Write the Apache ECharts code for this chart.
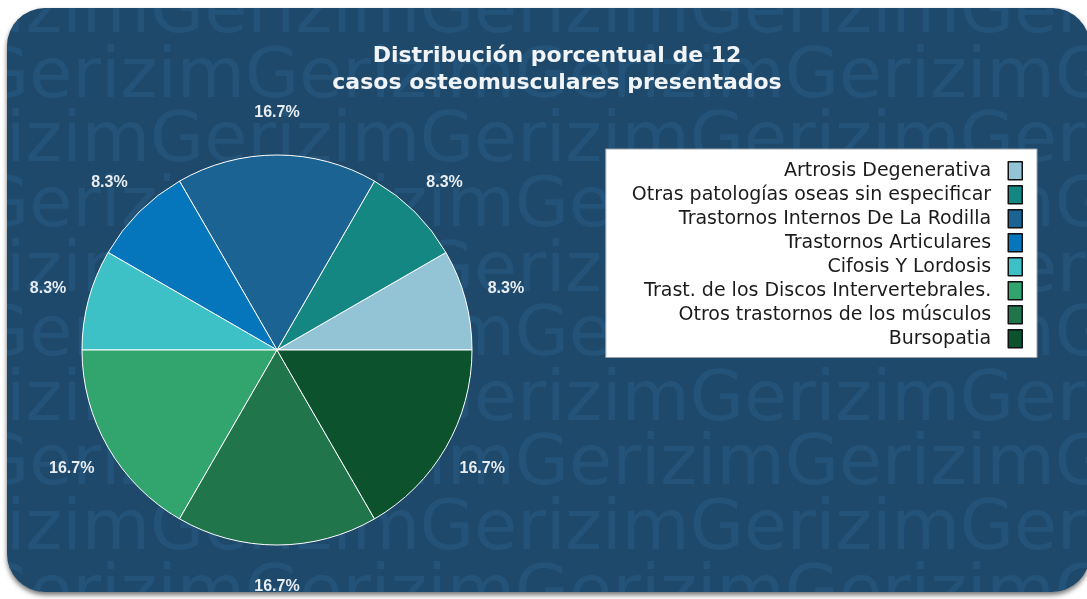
<!DOCTYPE html>
<html>
<head>
<meta charset="utf-8">
<script src="https://cdn.jsdelivr.net/npm/echarts/dist/echarts.min.js"></script>
<style>
html,body{margin:0;padding:0;background:#fff;overflow:hidden;width:1087px;height:599px;}
.panel{position:absolute;left:7px;top:8px;width:1083px;height:584px;border-radius:38px;overflow:hidden;background:#1e496b;box-shadow:0 3px 5px rgba(0,0,0,.55);}
#chart{width:1083px;height:584px;}
</style>
</head>
<body>
<div class="panel"><div id="chart"></div></div>
<script>
// datos del grafico
const categories = [
  'Artrosis Degenerativa',
  'Otras patologías oseas sin especificar',
  'Trastornos Internos De La Rodilla',
  'Trastornos Articulares',
  'Cifosis Y Lordosis',
  'Trast. de los Discos Intervertebrales.',
  'Otros trastornos de los músculos',
  'Bursopatia'
];
const cases = [1, 1, 2, 1, 1, 2, 2, 2];
const sliceColors = ['#93c4d6', '#148782', '#1a6392', '#0676bc', '#3dc0c6', '#32a46e', '#21754a', '#0b522d'];
const titleLines = ['Distribución porcentual de 12', 'casos osteomusculares presentados'];
const watermarkWord = 'Gerizim';

const pieData = categories.map((name, i) => ({ name: name, value: cases[i], itemStyle: { color: sliceColors[i] } }));
// misma serie, transparente, solo para colocar los porcentajes fuera del circulo
const labelData = categories.map((name, i) => ({ name: name, value: cases[i] }));

// marca de agua de fondo
const watermark = [];
for (let i = 0; i < 10; i++) {
  watermark.push({
    type: 'text',
    silent: true,
    z: -10,
    x: i % 2 ? -32 : -127,
    y: 27 + 64.6 * i - 21,
    style: {
      text: watermarkWord.repeat(5),
      font: '70px "DejaVu Sans"',
      fill: '#24537a',
      verticalAlign: 'middle'
    }
  });
}

const myChart = echarts.init(document.getElementById('chart'));
const option = {
  animation: false,
  title: {
    text: titleLines.join('\n'),
    left: 550,
    top: 35,
    textAlign: 'center',
    padding: 0,
    textStyle: {
      fontFamily: 'DejaVu Sans',
      fontWeight: 'bold',
      fontSize: 22,
      lineHeight: 27,
      color: '#f1f4f6'
    }
  },
  graphic: watermark,
  legend: {
    orient: 'vertical',
    right: 53,
    top: 141,
    align: 'right',
    backgroundColor: '#fff',
    borderColor: '#9aa3ab',
    borderWidth: 1,
    padding: [12, 14, 9, 26],
    itemGap: 4.5,
    itemWidth: 14,
    itemHeight: 18,
    icon: 'rect',
    selectedMode: false,
    itemStyle: { borderColor: '#111', borderWidth: 1.5 },
    formatter: name => name + '  ',
    textStyle: { fontFamily: 'DejaVu Sans', fontSize: 19, color: '#1b1b1b' },
    data: categories
  },
  series: [
    {
      type: 'pie',
      center: [270, 342],
      radius: 195,
      startAngle: 0,
      clockwise: false,
      data: pieData,
      label: { show: false },
      labelLine: { show: false },
      itemStyle: { borderColor: '#fff', borderWidth: 1 },
      emphasis: { disabled: true }
    },
    {
      type: 'pie',
      center: [270, 342],
      radius: [0, 468],
      startAngle: 0,
      clockwise: false,
      silent: true,
      percentPrecision: 1,
      data: labelData,
      itemStyle: { color: 'rgba(0,0,0,0)', borderWidth: 0 },
      label: {
        show: true,
        position: 'inside',
        formatter: '{d}%',
        color: '#e8edf1',
        fontFamily: 'Liberation Sans',
        fontWeight: 'bold',
        fontSize: 16
      },
      labelLine: { show: false },
      emphasis: { disabled: true }
    }
  ]
};
myChart.setOption(option);
</script>
</body>
</html>
